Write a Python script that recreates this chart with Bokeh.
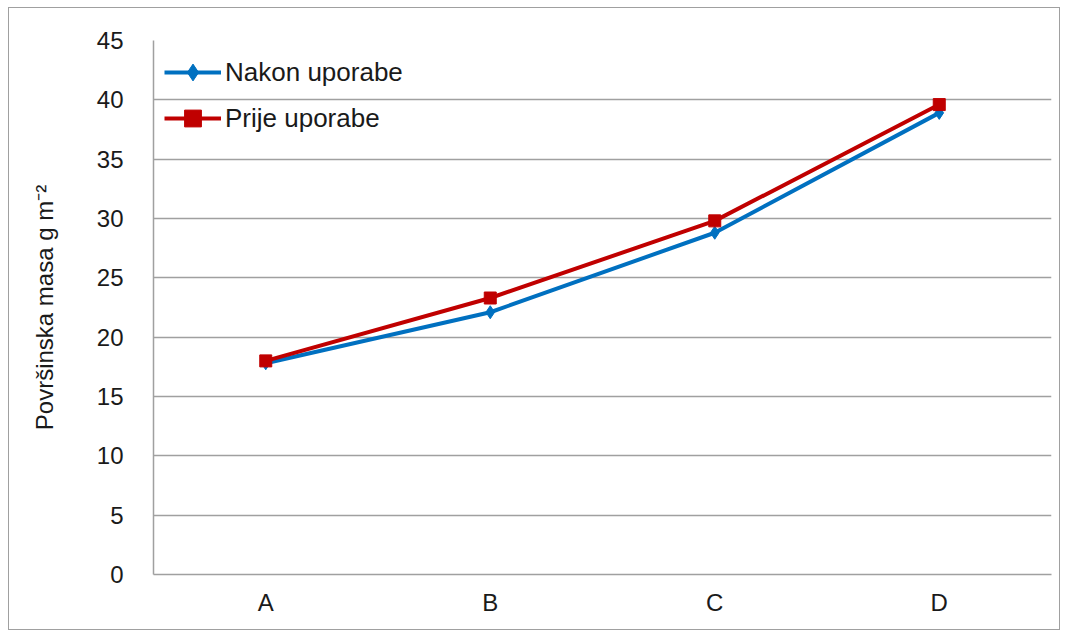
from bokeh.plotting import figure
from bokeh.models import FactorRange, Range1d, FixedTicker, Legend, LegendItem
from bokeh.embed import file_html
from bokeh.resources import INLINE

categories = ["A", "B", "C", "D"]
nakon = [17.8, 22.1, 28.8, 38.9]
prije = [18.0, 23.3, 29.8, 39.6]
y_ticks = [0, 5, 10, 15, 20, 25, 30, 35, 40, 45]

FONT = "Liberation Sans"
GRID = "#A0A0A0"
TXT = "#1a1a1a"

p = figure(width=1052, height=623, output_backend="svg", toolbar_location=None,
           x_range=FactorRange(*categories), y_range=Range1d(0, 45),
           min_border_left=144, min_border_right=10, min_border_top=32, min_border_bottom=57)
p.styles = {"border": "1px solid #A0A0A0", "box-sizing": "border-box",
            "margin-left": "8px", "margin-top": "7px"}
p.outline_line_color = None
p.background_fill_color = "white"
p.border_fill_color = "white"

p.xgrid.grid_line_color = None
p.ygrid.grid_line_color = GRID
p.ygrid.grid_line_width = 1.5
p.yaxis.ticker = FixedTicker(ticks=y_ticks)

for ax in (p.xaxis[0], p.yaxis[0]):
    ax.axis_line_color = GRID
    ax.axis_line_width = 1.5
    ax.major_tick_line_color = None
    ax.minor_tick_line_color = None
    ax.major_label_text_font = FONT
    ax.major_label_text_font_size = "24px"
    ax.major_label_text_color = TXT
    ax.axis_label_text_font = FONT
    ax.axis_label_text_font_style = "normal"
    ax.axis_label_text_font_size = "24px"
    ax.axis_label_text_color = TXT

p.yaxis.major_label_standoff = 24
p.xaxis.major_label_standoff = 8
p.yaxis.axis_label = "Površinska masa g m⁻²"
p.yaxis.axis_label_standoff = 36

BLUE = "#0070C0"
RED = "#C00000"

l1 = p.line(categories, nakon, line_color=BLUE, line_width=4)
m1 = p.scatter(categories, nakon, marker="diamond", size=13, fill_color=BLUE, line_color=BLUE)
l2 = p.line(categories, prije, line_color=RED, line_width=4)
m2 = p.scatter(categories, prije, marker="square", size=12, fill_color=RED, line_color=RED)

legend = Legend(items=[LegendItem(label="Nakon uporabe", renderers=[l1, m1]),
                       LegendItem(label="Prije uporabe", renderers=[l2, m2])],
                location="top_left", margin=11, padding=0, spacing=4,
                glyph_width=57, glyph_height=42, label_height=42, label_standoff=4,
                label_text_font=FONT, label_text_font_size="26px", label_text_color=TXT,
                border_line_color=None, background_fill_alpha=0)
p.add_layout(legend)

open("out.html", "w").write(file_html(p, INLINE))
